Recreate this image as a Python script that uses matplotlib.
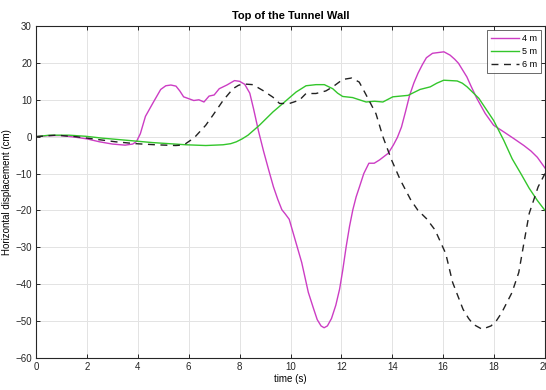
import matplotlib
matplotlib.use("Agg")
import matplotlib.pyplot as plt

plt.rcParams['font.family'] = ['Liberation Sans', 'DejaVu Sans']

# Horizontal displacement at the top of the tunnel wall, for three depths
t_4m = [0.0, 0.5, 1.0, 1.5, 2.0, 2.5, 3.0, 3.5, 3.8, 3.95, 4.1, 4.3, 4.6, 4.9, 5.1, 5.3, 5.5,
        5.65, 5.8, 6.0, 6.2, 6.4, 6.6, 6.8, 7.0, 7.2, 7.5, 7.8, 8.0, 8.2, 8.4, 8.55, 8.74,
        8.94, 9.15, 9.33, 9.5, 9.66, 9.8, 9.95, 10.18, 10.44, 10.70, 10.9, 11.05, 11.2,
        11.32, 11.45, 11.61, 11.78, 11.93, 12.05, 12.19, 12.32, 12.45, 12.58, 12.71, 12.88,
        13.08, 13.29, 13.5, 13.84, 14.04, 14.2, 14.36, 14.52, 14.68, 14.85, 15.01, 15.18,
        15.34, 15.58, 15.8, 16.03, 16.27, 16.45, 16.6, 16.93, 17.1, 17.32, 17.65, 17.98,
        18.38, 18.77, 19.17, 19.45, 19.7, 20.0]
d_4m = [0.0, 0.3, 0.3, -0.1, -0.6, -1.4, -2.0, -2.3, -2.0, -1.3, 0.8, 5.5, 9.2, 12.8, 13.8,
        14.0, 13.7, 12.4, 10.8, 10.3, 9.8, 10.0, 9.4, 11.0, 11.3, 13.0, 14.0, 15.2, 15.0,
        14.2, 11.8, 7.5, 1.6, -3.9, -9.2, -13.6, -17.0, -19.8, -21.0, -22.4, -27.9, -34.1,
        -42.2, -46.5, -49.6, -51.3, -51.8, -51.3, -49.3, -45.7, -41.3, -36.3, -29.7, -24.3,
        -19.8, -16.3, -13.6, -10.0, -7.2, -7.2, -6.3, -4.5, -2.3, -0.2, 2.6, 6.8, 11.2,
        14.6, 17.2, 19.5, 21.4, 22.6, 22.8, 23.0, 22.1, 21.0, 19.9, 16.2, 13.6, 10.4, 6.3,
        3.1, 1.3, -0.5, -2.4, -3.9, -5.6, -8.5]

t_5m = [0.0, 0.52, 1.3, 1.96, 2.6, 3.27, 3.92, 4.57, 5.23, 5.9, 6.67, 7.35, 7.65, 7.87, 8.1,
        8.33, 8.78, 9.31, 9.7, 10.0, 10.22, 10.61, 11.0, 11.33, 11.66, 11.85, 12.05, 12.44,
        12.97, 13.3, 13.63, 14.02, 14.62, 15.09, 15.49, 15.75, 16.02, 16.55, 16.75, 16.94,
        17.4, 17.98, 18.38, 18.71, 19.05, 19.38, 19.7, 20.0]
d_5m = [0.0, 0.4, 0.4, 0.1, -0.4, -0.8, -1.2, -1.6, -1.9, -2.2, -2.4, -2.2, -1.9, -1.4, -0.6,
        0.4, 3.1, 6.7, 9.0, 10.8, 12.1, 13.8, 14.1, 14.1, 13.0, 11.8, 10.9, 10.6,
        9.4, 9.6, 9.4, 10.8, 11.2, 12.8, 13.5, 14.5, 15.3, 15.1, 14.5, 13.5, 10.4, 4.4,
        -1.0, -6.0, -10.0, -14.0, -17.3, -20.0]

t_6m = [0.0, 0.78, 1.57, 2.35, 3.14, 3.92, 4.7, 5.49, 5.7, 5.88, 6.07, 6.27, 6.67, 6.95,
        7.35, 7.74, 7.95, 8.13, 8.52, 8.92, 9.31, 9.57, 9.96, 10.35, 10.61, 11.0, 11.39,
        11.66, 12.05, 12.4, 12.7, 12.95, 13.36, 13.63, 13.97, 14.32, 14.73, 15.0, 15.34,
        15.68, 16.1, 16.37, 16.78, 17.0, 17.19, 17.53, 17.88, 18.1, 18.3, 18.7, 18.97,
        19.18, 19.38, 19.73, 20.0]
d_6m = [0.0, 0.4, 0.0, -0.7, -1.4, -1.9, -2.2, -2.4, -2.3, -1.9, -1.0, 0.1, 3.1, 5.8, 9.8,
        13.0, 13.9, 14.3, 14.1, 12.5, 10.7, 9.0, 9.0, 9.9, 11.7, 11.7, 12.4, 13.5, 15.5,
        15.9, 14.8, 11.6, 6.2, 0.0, -6.3, -11.8, -17.2, -19.9, -22.2, -25.3, -31.7, -39.5,
        -46.8, -49.3, -50.9, -52.2, -51.3, -49.8, -47.7, -42.3, -36.8, -28.5, -20.8, -13.6,
        -10.0]

x_ticks = [0, 2, 4, 6, 8, 10, 12, 14, 16, 18, 20]
y_ticks = [-60, -50, -40, -30, -20, -10, 0, 10, 20, 30]

fig = plt.figure(figsize=(5.46, 3.90), dpi=100)
ax = fig.add_axes([36 / 546, 1 - 358 / 390, 509 / 546, 332 / 390])

ax.plot(t_4m, d_4m, color='#cc3dc4', lw=1.0, label='4 m')
ax.plot(t_5m, d_5m, color='#33c62b', lw=1.0, label='5 m')
ax.plot(t_6m, d_6m, color='#222222', lw=1.0, ls=(0, (5, 4)), label='6 m')

ax.set_xlim(0, 20)
ax.set_ylim(-60, 30)
ax.set_xticks(x_ticks)
ax.set_yticks(y_ticks)
ax.tick_params(direction='in', length=3, width=0.7, labelsize=7, colors='#262626',
               top=True, right=True, pad=3)
ax.grid(True, color='#e3e3e3', lw=0.7)
ax.set_axisbelow(True)
for s in ax.spines.values():
    s.set_color('#262626')
    s.set_linewidth(0.8)

ax.set_title('Top of the Tunnel Wall', fontsize=8, fontweight='bold', pad=5)
ax.set_xlabel('time (s)', fontsize=7, labelpad=1)
ax.set_ylabel('Horizontal displacement (cm)', fontsize=7, labelpad=2)

leg = ax.legend(loc='upper right', fontsize=6.5, frameon=True, fancybox=False,
                edgecolor='#262626', handlelength=3.2, handletextpad=0.3,
                labelspacing=0.45, borderpad=0.45, borderaxespad=0.4)
leg.get_frame().set_linewidth(0.6)

fig.savefig('out.png', dpi=100)
